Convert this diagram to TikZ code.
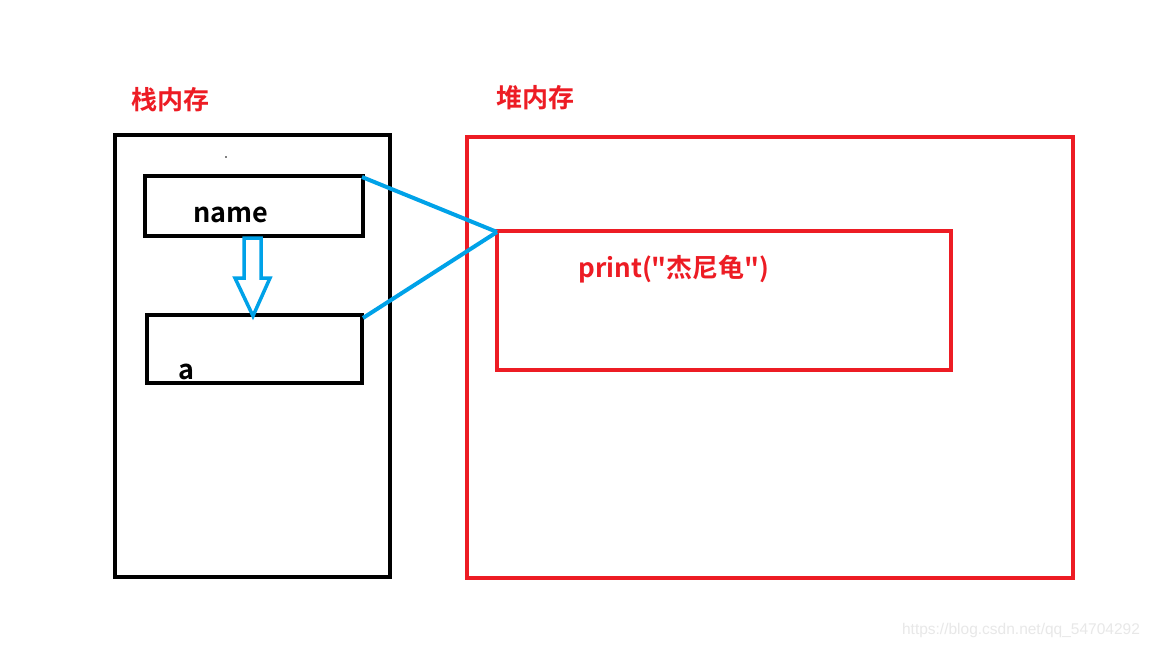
\documentclass[tikz,border=0pt]{standalone}
\usepackage{fontspec}
\setmainfont{Noto Sans CJK SC}[BoldFont={* Bold},Ligatures=TeXOff]
\newfontfamily\wmfont{Liberation Sans}
\definecolor{myred}{RGB}{237,28,36}
\definecolor{myblue}{RGB}{0,162,232}
\definecolor{wmgray}{RGB}{232,232,232}
\tikzset{
  blkbox/.style={draw=black,line width=4pt},
  redbox/.style={draw=myred,line width=4pt},
  conn/.style={draw=myblue,line width=4pt},
  lbl/.style={text=myred,font=\bfseries\fontsize{26}{30}\selectfont,inner sep=0pt},
  blbl/.style={text=black,font=\bfseries\fontsize{27}{30}\selectfont,inner sep=0pt}
}
\begin{document}
\begin{tikzpicture}[x=1pt,y=-1pt]
\useasboundingbox (0,0) rectangle (1152,648);
\fill[white] (0,0) rectangle (1152,648);
% stack
\node[lbl] (stacklbl) at (170,100) {栈内存};
\draw[blkbox] (115,135) rectangle (390,577);
\coordinate (dot) at (226,157);
\fill (dot) circle (0.8);
\draw[blkbox] (145,176) rectangle (363,236);
\node[blbl] (name) at (231,215) {name};
\draw[blkbox] (147,315) rectangle (362,383);
\node[blbl] (a) at (186,372) {a};
% hollow arrow
\draw[conn,line width=3.5pt,line join=miter]
  (244,238) -- (261,238) -- (261,278) -- (270,278) -- (253,316) -- (235,278) -- (244,278) -- cycle;
% heap
\node[lbl] (heaplbl) at (535,98) {堆内存};
\draw[redbox] (467,137) rectangle (1073,578);
\draw[redbox] (497,231) rectangle (951,370);
\node[lbl] (print) at (674,269) {print("杰尼龟")};
% connectors
\coordinate (nameR) at (362,177);
\coordinate (aR) at (363,318);
\coordinate (heapP) at (497,232);
\draw[conn] (nameR) -- (heapP);
\draw[conn] (aR) -- (heapP);
% watermark
\node[text=wmgray,font=\wmfont\fontsize{15.5}{18}\selectfont,inner sep=0pt] (wm) at (1021,630) {https://blog.csdn.net/qq\_54704292};
\end{tikzpicture}
\end{document}
